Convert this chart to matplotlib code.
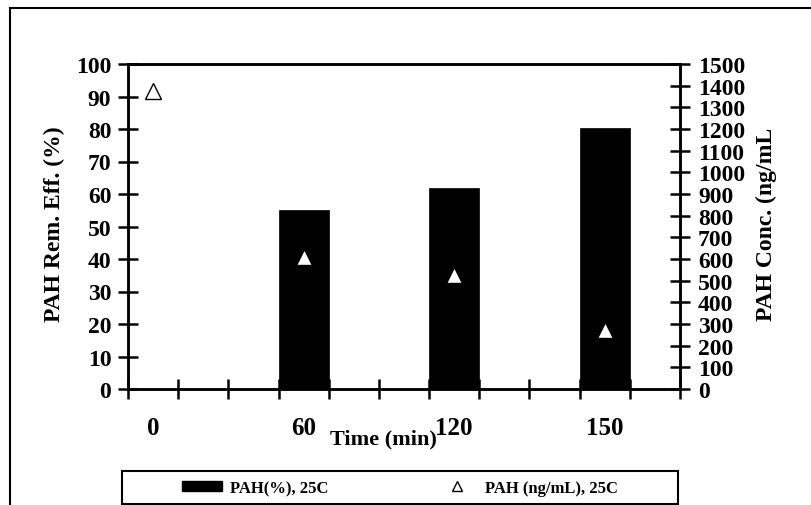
import matplotlib
matplotlib.use('Agg')
import matplotlib.pyplot as plt
from matplotlib.patches import Rectangle
from matplotlib.lines import Line2D
import numpy as np

plt.rcParams['font.family'] = ['Liberation Serif', 'DejaVu Serif']
plt.rcParams['font.weight'] = 'bold'
plt.rcParams['axes.labelweight'] = 'bold'

# data
time_labels = ['0', '60', '120', '150']
time_slot = [0, 3, 6, 9]          # category slot on the x axis (11 slots)
n_slots = 11
removal_pct = [0, 55.1, 61.8, 80.2]
conc_ngml = [1374, 611, 526, 273]

fig = plt.figure(figsize=(8.12, 5.06), dpi=100)
ax = fig.add_axes([128/812, 1 - 390/506, 552/812, 325/506])
ax2 = ax.twinx()

x = np.array(time_slot) + 0.5
ax.bar(x, removal_pct, width=1.0, facecolor='black', edgecolor='black',
       linewidth=0.5, label='PAH(%), 25C', zorder=2)
ax2.plot(x, conc_ngml, linestyle='none', marker='^', markersize=12,
         markerfacecolor='white', markeredgecolor='black', markeredgewidth=1.0,
         label='PAH (ng/mL), 25C', zorder=3)

ax.set_xlim(0, n_slots)
ax.set_ylim(0, 100)
ax2.set_ylim(0, 1500)

ax.set_yticks(range(0, 101, 10))
ax2.set_yticks(range(0, 1501, 100))
ax.set_xticks(range(n_slots + 1))
ax.set_xticklabels([''] * (n_slots + 1))
for xi, lab in zip(x, time_labels):
    ax.text(xi, -0.118, lab, transform=ax.get_xaxis_transform(),
            ha='center', va='center', fontsize=18, fontweight='bold')

for a in (ax, ax2):
    for s in a.spines.values():
        s.set_linewidth(1.8)
ax.tick_params(axis='y', which='major', direction='inout', length=14, width=1.8,
               labelsize=17, pad=5)
ax.tick_params(axis='x', which='major', direction='inout', length=14, width=1.8)
ax2.tick_params(axis='y', direction='inout', length=14, width=1.8, labelsize=17, pad=6)

ax.set_xlabel('Time (min)', fontsize=16, fontweight='bold')
ax.xaxis.set_label_coords(0.462, -0.12)
ax.set_ylabel('PAH Rem. Eff. (%)', fontsize=17, fontweight='bold')
ax.yaxis.set_label_coords(-0.114, 0.51)
ax2.set_ylabel('PAH Conc. (ng/mL', fontsize=17, fontweight='bold', rotation=90)
ax2.yaxis.set_label_coords(1.138, 0.51)

# legend below the plot in its own box
box = Rectangle((122/812, 1 - 505/506), 556/812, 33/506, transform=fig.transFigure,
                fill=False, edgecolor='black', linewidth=1.5)
fig.add_artist(box)
handles = [Rectangle((0, 0), 1, 1, color='black'),
           Line2D([], [], linestyle='none', marker='^', markersize=7,
                  markerfacecolor='white', markeredgecolor='black')]
fig.legend(handles, ['PAH(%), 25C', 'PAH (ng/mL), 25C'], loc='center',
           bbox_to_anchor=(400/812, 1 - 489/506), ncol=2, frameon=False,
           fontsize=12, handlelength=2.4, handleheight=0.6, columnspacing=6.5,
           handletextpad=0.5)

# outer frame
fig.add_artist(Rectangle((10/812, -0.05), 1.0, 1 - 9/506 + 0.05,
                         transform=fig.transFigure, fill=False,
                         edgecolor='black', linewidth=1.5))

fig.savefig('out.png', dpi=100)
